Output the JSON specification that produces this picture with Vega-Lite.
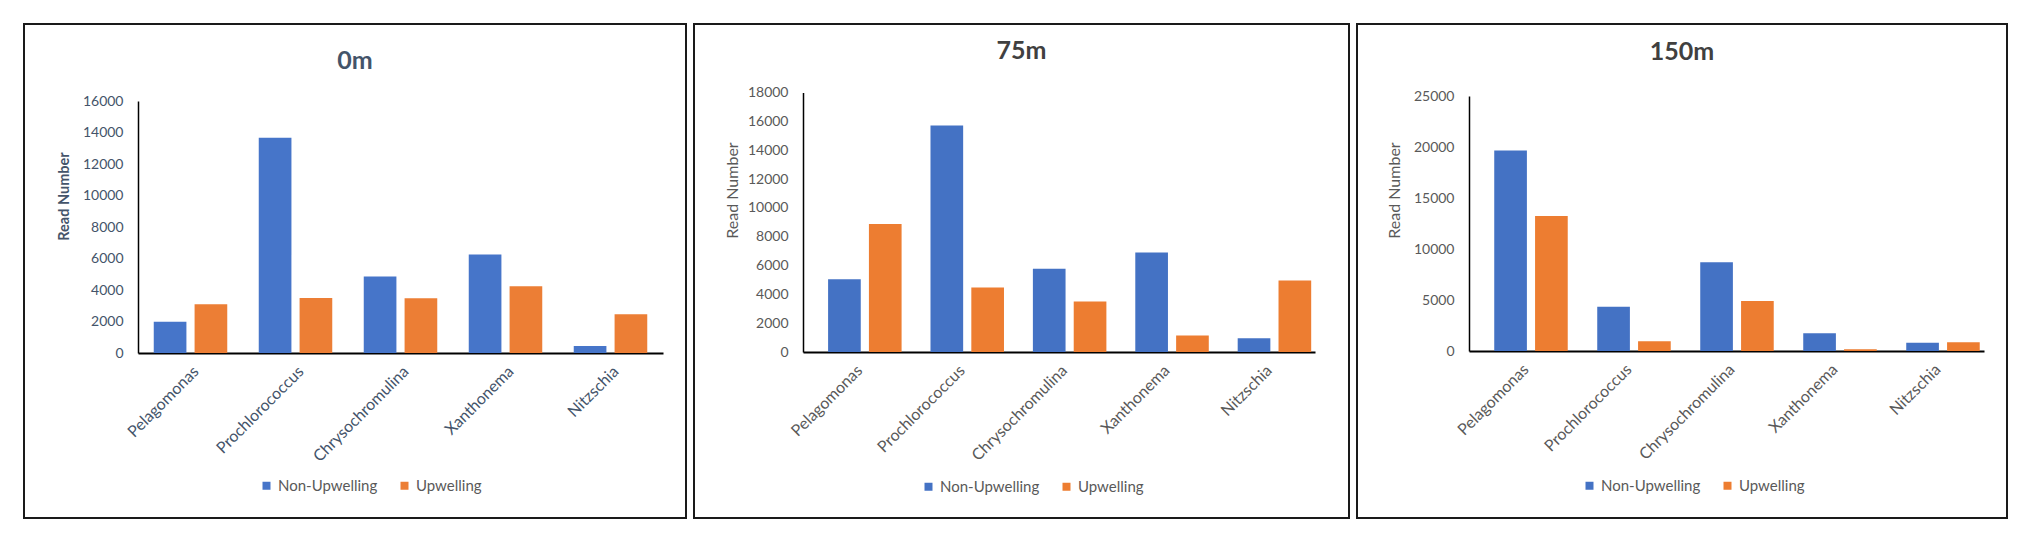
{
  "$schema": "https://vega.github.io/schema/vega-lite/v6.json",
  "padding": {"left": 23, "top": 23, "right": 0, "bottom": 0},
  "spacing": 6,
  "config": {
    "view": {"stroke": "#1a1a1a", "strokeWidth": 2},
    "font": "Lato"
  },
  "resolve": {"scale": {"color": "independent", "x": "independent", "y": "independent"}, "legend": {"color": "independent"}},
  "hconcat": [
    {
      "width": 662,
      "height": 494,
      "title": {"text": "0m", "anchor": "middle", "frame": "group", "offset": -70, "baseline": "alphabetic", "fontSize": 25, "font": "Lato", "fontWeight": "bold", "color": "#44546A"},
      "data": {"values": [
        {"genus": "Pelagomonas", "condition": "Non-Upwelling", "reads": 1980},
        {"genus": "Pelagomonas", "condition": "Upwelling", "reads": 3100},
        {"genus": "Prochlorococcus", "condition": "Non-Upwelling", "reads": 13670},
        {"genus": "Prochlorococcus", "condition": "Upwelling", "reads": 3500},
        {"genus": "Chrysochromulina", "condition": "Non-Upwelling", "reads": 4850},
        {"genus": "Chrysochromulina", "condition": "Upwelling", "reads": 3470},
        {"genus": "Xanthonema", "condition": "Non-Upwelling", "reads": 6260},
        {"genus": "Xanthonema", "condition": "Upwelling", "reads": 4240},
        {"genus": "Nitzschia", "condition": "Non-Upwelling", "reads": 440},
        {"genus": "Nitzschia", "condition": "Upwelling", "reads": 2460}
      ]},
      "mark": {"type": "bar"},
      "encoding": {
        "x": {"field": "genus", "type": "nominal", "sort": ["Pelagomonas", "Prochlorococcus", "Chrysochromulina", "Xanthonema", "Nitzschia"],
          "scale": {"range": [114, 639], "paddingInner": 0.3, "paddingOuter": 0.15},
          "axis": {"title": null, "offset": -165, "labelAngle": -45, "labelAlign": "right", "labelBaseline": "top", "labelPadding": 10, "ticks": false, "domainColor": "#000000", "domainWidth": 2, "labelFont": "Lato", "labelFontSize": 16, "labelColor": "#44546A"}},
        "xOffset": {"field": "condition", "type": "nominal", "sort": ["Non-Upwelling", "Upwelling"], "scale": {"paddingInner": 0.2, "paddingOuter": 0}},
        "y": {"field": "reads", "type": "quantitative",
          "scale": {"domain": [0, 16000], "range": [329, 77], "nice": false, "zero": true},
          "axis": {"title": "Read Number", "offset": -114, "values": [0, 2000, 4000, 6000, 8000, 10000, 12000, 14000, 16000], "format": "d", "grid": false, "ticks": false, "domainColor": "#000000", "domainWidth": 1.5, "labelFont": "Lato", "labelFontSize": 14, "labelColor": "#44546A", "labelPadding": 15,
            "titleFont": "Lato", "titleFontSize": 14.5, "titleFontWeight": "bold", "titleColor": "#44546A", "titleX": -74, "titleY": 172, "titleAngle": -90, "titleBaseline": "middle", "titleAlign": "center"}},
        "color": {"field": "condition", "type": "nominal",
          "scale": {"domain": ["Non-Upwelling", "Upwelling"], "range": ["#4675C9", "#EC7E35"]},
          "legend": {"orient": "none", "legendX": 235, "legendY": 454, "direction": "horizontal", "title": null, "symbolType": "square", "symbolSize": 64, "symbolStrokeWidth": 0, "labelFont": "Lato", "labelFontSize": 15, "labelColor": "#595959", "columnPadding": 19, "labelOffset": 4, "padding": 0}}
      }
    },
    {
      "width": 655,
      "height": 494,
      "title": {"text": "75m", "anchor": "middle", "frame": "group", "offset": -60, "baseline": "alphabetic", "fontSize": 25, "font": "Lato", "fontWeight": "bold", "color": "#404040"},
      "data": {"values": [
        {"genus": "Pelagomonas", "condition": "Non-Upwelling", "reads": 5050},
        {"genus": "Pelagomonas", "condition": "Upwelling", "reads": 8880},
        {"genus": "Prochlorococcus", "condition": "Non-Upwelling", "reads": 15710},
        {"genus": "Prochlorococcus", "condition": "Upwelling", "reads": 4480},
        {"genus": "Chrysochromulina", "condition": "Non-Upwelling", "reads": 5770},
        {"genus": "Chrysochromulina", "condition": "Upwelling", "reads": 3510},
        {"genus": "Xanthonema", "condition": "Non-Upwelling", "reads": 6900},
        {"genus": "Xanthonema", "condition": "Upwelling", "reads": 1150},
        {"genus": "Nitzschia", "condition": "Non-Upwelling", "reads": 960},
        {"genus": "Nitzschia", "condition": "Upwelling", "reads": 4960}
      ]},
      "mark": {"type": "bar"},
      "encoding": {
        "x": {"field": "genus", "type": "nominal", "sort": ["Pelagomonas", "Prochlorococcus", "Chrysochromulina", "Xanthonema", "Nitzschia"],
          "scale": {"range": [109, 621], "paddingInner": 0.49, "paddingOuter": 0.245},
          "axis": {"title": null, "offset": -166, "labelAngle": -45, "labelAlign": "right", "labelBaseline": "top", "labelPadding": 10, "ticks": false, "domainColor": "#000000", "domainWidth": 2, "labelFont": "Lato", "labelFontSize": 16, "labelColor": "#595959"}},
        "xOffset": {"field": "condition", "type": "nominal", "sort": ["Non-Upwelling", "Upwelling"], "scale": {"paddingInner": 0.2, "paddingOuter": 0}},
        "y": {"field": "reads", "type": "quantitative",
          "scale": {"domain": [0, 18000], "range": [328, 68.5], "nice": false, "zero": true},
          "axis": {"title": "Read Number", "offset": -109, "values": [0, 2000, 4000, 6000, 8000, 10000, 12000, 14000, 16000, 18000], "format": "d", "grid": false, "ticks": false, "domainColor": "#000000", "domainWidth": 1.5, "labelFont": "Lato", "labelFontSize": 14, "labelColor": "#595959", "labelPadding": 15,
            "titleFont": "Lato", "titleFontSize": 16, "titleFontWeight": "normal", "titleColor": "#595959", "titleX": -71, "titleY": 166, "titleAngle": -90, "titleBaseline": "middle", "titleAlign": "center"}},
        "color": {"field": "condition", "type": "nominal",
          "scale": {"domain": ["Non-Upwelling", "Upwelling"], "range": ["#4472C4", "#ED7D31"]},
          "legend": {"orient": "none", "legendX": 227, "legendY": 455, "direction": "horizontal", "title": null, "symbolType": "square", "symbolSize": 64, "symbolStrokeWidth": 0, "labelFont": "Lato", "labelFontSize": 15, "labelColor": "#595959", "columnPadding": 19, "labelOffset": 4, "padding": 0}}
      }
    },
    {
      "width": 650,
      "height": 494,
      "title": {"text": "150m", "anchor": "middle", "frame": "group", "offset": -61, "baseline": "alphabetic", "fontSize": 25, "font": "Lato", "fontWeight": "bold", "color": "#404040"},
      "data": {"values": [
        {"genus": "Pelagomonas", "condition": "Non-Upwelling", "reads": 19650},
        {"genus": "Pelagomonas", "condition": "Upwelling", "reads": 13230},
        {"genus": "Prochlorococcus", "condition": "Non-Upwelling", "reads": 4330},
        {"genus": "Prochlorococcus", "condition": "Upwelling", "reads": 950},
        {"genus": "Chrysochromulina", "condition": "Non-Upwelling", "reads": 8690},
        {"genus": "Chrysochromulina", "condition": "Upwelling", "reads": 4900},
        {"genus": "Xanthonema", "condition": "Non-Upwelling", "reads": 1730},
        {"genus": "Xanthonema", "condition": "Upwelling", "reads": 170},
        {"genus": "Nitzschia", "condition": "Non-Upwelling", "reads": 810},
        {"genus": "Nitzschia", "condition": "Upwelling", "reads": 850}
      ]},
      "mark": {"type": "bar"},
      "encoding": {
        "x": {"field": "genus", "type": "nominal", "sort": ["Pelagomonas", "Prochlorococcus", "Chrysochromulina", "Xanthonema", "Nitzschia"],
          "scale": {"range": [112, 627], "paddingInner": 0.49, "paddingOuter": 0.245},
          "axis": {"title": null, "offset": -167, "labelAngle": -45, "labelAlign": "right", "labelBaseline": "top", "labelPadding": 10, "ticks": false, "domainColor": "#000000", "domainWidth": 2, "labelFont": "Lato", "labelFontSize": 16, "labelColor": "#595959"}},
        "xOffset": {"field": "condition", "type": "nominal", "sort": ["Non-Upwelling", "Upwelling"], "scale": {"paddingInner": 0.2, "paddingOuter": 0}},
        "y": {"field": "reads", "type": "quantitative",
          "scale": {"domain": [0, 25000], "range": [327, 72], "nice": false, "zero": true},
          "axis": {"title": "Read Number", "offset": -112, "values": [0, 5000, 10000, 15000, 20000, 25000], "format": "d", "grid": false, "ticks": false, "domainColor": "#000000", "domainWidth": 1.5, "labelFont": "Lato", "labelFontSize": 14, "labelColor": "#595959", "labelPadding": 15,
            "titleFont": "Lato", "titleFontSize": 16, "titleFontWeight": "normal", "titleColor": "#595959", "titleX": -75, "titleY": 166, "titleAngle": -90, "titleBaseline": "middle", "titleAlign": "center"}},
        "color": {"field": "condition", "type": "nominal",
          "scale": {"domain": ["Non-Upwelling", "Upwelling"], "range": ["#4472C4", "#ED7D31"]},
          "legend": {"orient": "none", "legendX": 225, "legendY": 454, "direction": "horizontal", "title": null, "symbolType": "square", "symbolSize": 64, "symbolStrokeWidth": 0, "labelFont": "Lato", "labelFontSize": 15, "labelColor": "#595959", "columnPadding": 19, "labelOffset": 4, "padding": 0}}
      }
    }
  ]
}
